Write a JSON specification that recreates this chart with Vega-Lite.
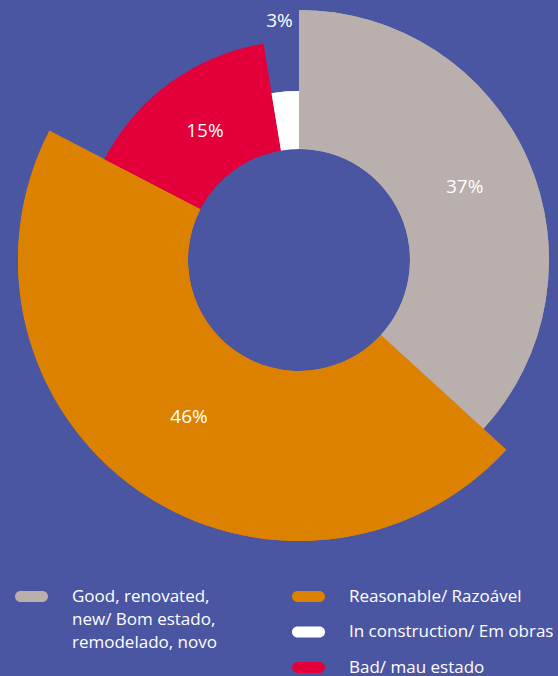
{
  "$schema": "https://vega.github.io/schema/vega-lite/v6.json",
  "width": 518,
  "height": 520,
  "autosize": {"type": "none"},
  "padding": {"left": 40, "top": 0, "right": 0, "bottom": 156},
  "background": "#4b56a2",
  "config": {
    "view": {"stroke": null},
    "style": {"guide-label": {"lineHeight": 23}}
  },
  "data": {
    "values": [
      {"category": "Good, renovated, new/ Bom estado, remodelado, novo", "value": 36.8, "label": "37%", "idx": 1},
      {"category": "Reasonable/ Razoável", "value": 45.8, "label": "46%", "idx": 2},
      {"category": "Bad/ mau estado", "value": 14.8, "label": "15%", "idx": 3},
      {"category": "In construction/ Em obras", "value": 2.6, "label": "3%", "idx": 4}
    ]
  },
  "encoding": {
    "theta": {"field": "value", "type": "quantitative", "stack": true},
    "order": {"field": "idx", "type": "quantitative"}
  },
  "layer": [
    {
      "mark": {"type": "arc", "innerRadius": 111},
      "encoding": {
        "radius": {"field": "value", "type": "quantitative", "scale": {"type": "linear", "zero": false, "domain": [2.6, 14.8, 36.8, 45.8], "range": [169, 219, 250, 281]}},
        "fill": {
          "field": "category", "type": "nominal",
          "scale": {
            "domain": ["Reasonable/ Razoável", "In construction/ Em obras", "Bad/ mau estado", "Good, renovated, new/ Bom estado, remodelado, novo"],
            "range": ["#dc8200", "#ffffff", "#e3003a", "#b9afac"]
          },
          "legend": {
            "orient": "none", "legendX": 252, "legendY": 580, "title": null, "padding": 0,
            "values": ["Reasonable/ Razoável", "In construction/ Em obras", "Bad/ mau estado"],
            "symbolType": "M-0.667,-0.333 L0.667,-0.333 A0.333,0.333 0 0 1 0.667,0.333 L-0.667,0.333 A0.333,0.333 0 0 1 -0.667,-0.333 Z",
            "symbolSize": 1089, "symbolStrokeWidth": 0, "labelOffset": 24, "rowPadding": 10.5,
            "labelFont": "Open Sans", "labelFontSize": 17, "labelColor": "#ffffff", "labelLimit": 300
          }
        }
      }
    },
    {
      "mark": {"type": "arc", "innerRadius": 111},
      "encoding": {
        "radius": {"field": "value", "type": "quantitative", "scale": {"type": "linear", "zero": false, "domain": [2.6, 14.8, 36.8, 45.8], "range": [169, 219, 250, 281]}},
        "color": {
          "field": "category", "type": "nominal",
          "scale": {
            "domain": ["Good, renovated, new/ Bom estado, remodelado, novo", "Reasonable/ Razoável", "In construction/ Em obras", "Bad/ mau estado"],
            "range": ["#b9afac", "#dc8200", "#ffffff", "#e3003a"]
          },
          "legend": {
            "orient": "none", "legendX": -25, "legendY": 580, "title": null, "padding": 0,
            "values": ["Good, renovated, new/ Bom estado, remodelado, novo"],
            "labelExpr": "['Good, renovated,', 'new/ Bom estado,', 'remodelado, novo']",
            "symbolType": "M-0.667,-0.333 L0.667,-0.333 A0.333,0.333 0 0 1 0.667,0.333 L-0.667,0.333 A0.333,0.333 0 0 1 -0.667,-0.333 Z",
            "symbolSize": 1089, "symbolStrokeWidth": 0, "labelOffset": 24,
            "labelFont": "Open Sans", "labelFontSize": 17, "labelColor": "#ffffff", "labelLimit": 300
          }
        }
      }
    },
    {
      "mark": {"type": "text", "font": "Open Sans", "fontSize": 19, "color": "#ffffff"},
      "encoding": {
        "radius": {"field": "value", "type": "quantitative", "scale": {"type": "linear", "zero": false, "domain": [2.6, 14.8, 36.8, 45.8], "range": [240, 160, 181, 192]}},
        "text": {"field": "label"}
      }
    }
  ],
  "resolve": {"scale": {"radius": "independent"}}
}
